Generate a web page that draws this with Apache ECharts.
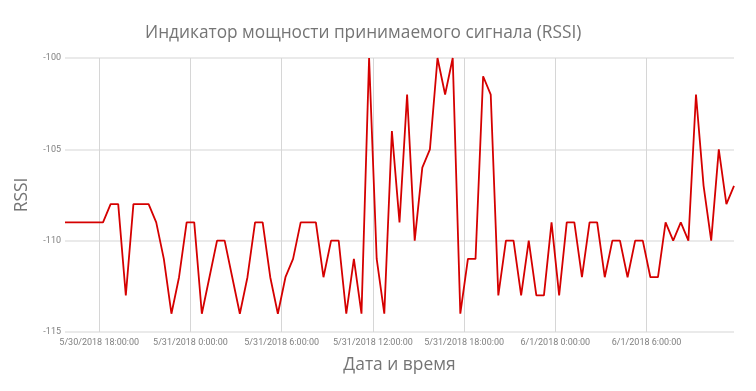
<!DOCTYPE html>
<html><head><meta charset="utf-8">
<script src="https://cdn.jsdelivr.net/npm/echarts@6/dist/echarts.min.js"></script>
<style>html,body{margin:0;padding:0;background:#fff}#c{width:756px;height:391px}</style>
</head><body><div id="c"></div>
<script>
// Data: RSSI readings every 30 minutes starting 5/30/2018 15:45
const startHour = 15.75;          // hours since 5/30/2018 0:00
const stepHours = 0.5;
const rssi = [
  -109,-109,-109,-109,-109,-109,-108,-108,-113,-108,
  -108,-108,-109,-111,-114,-112,-109,-109,-114,-112,
  -110,-110,-112,-114,-112,-109,-109,-112,-114,-112,
  -111,-109,-109,-109,-112,-110,-110,-114,-111,-114,
  -100,-111,-114,-104,-109,-102,-110,-106,-105,-100,
  -102,-100,-114,-111,-111,-101,-102,-113,-110,-110,
  -113,-110,-113,-113,-109,-113,-109,-109,-112,-109,
  -109,-112,-110,-110,-112,-110,-110,-112,-112,-109,
  -110,-109,-110,-102,-107,-110,-105,-108,-107
];
const yTicks = [-115, -110, -105, -100];
const titleText = 'Индикатор мощности принимаемого сигнала (RSSI)';
const xName = 'Дата и время';
const yName = 'RSSI';

const points = rssi.map((v, i) => [startHour + i * stepHours, v]);
const endHour = startHour + (rssi.length - 1) * stepHours;

function fmt(h) {
  const day = Math.floor(h / 24);
  const hh = Math.round(h - day * 24);
  let m = 5, d = 30 + day;
  if (d > 31) { m = 6; d -= 31; }
  return m + '/' + d + '/2018 ' + hh + ':00:00';
}

const chart = echarts.init(document.getElementById('c'), null, {renderer: 'canvas'});
const gray = '#757575';
chart.setOption({
  animation: false,
  backgroundColor: '#fff',
  title: {
    text: titleText, left: 140, top: 20,
    textStyle: {fontFamily: 'Open Sans', fontSize: 17.3, fontWeight: 'normal', color: gray}
  },
  grid: {left: 65, right: 22, top: 58, bottom: 59, containLabel: false},
  xAxis: {
    type: 'value', min: startHour, max: endHour,
    minInterval: 6, maxInterval: 6, splitNumber: 7,
    name: xName, nameLocation: 'middle', nameGap: 25,
    nameTextStyle: {fontFamily: 'Open Sans', fontSize: 17.4, color: gray},
    axisLine: {show: false}, axisTick: {show: false},
    axisLabel: {formatter: fmt, fontFamily: 'Roboto', fontSize: 9, color: '#808080', margin: 6,
                showMinLabel: false, showMaxLabel: false},
    splitLine: {show: true, showMinLine: false, showMaxLine: false, lineStyle: {color: '#d6d6d6', width: 1}}
  },
  yAxis: {
    type: 'value', min: yTicks[0], max: yTicks[yTicks.length - 1], interval: 5,
    name: yName, nameLocation: 'middle', nameGap: 34, nameRotate: 90,
    nameTextStyle: {fontFamily: 'Open Sans', fontSize: 17.4, color: gray},
    axisLine: {show: false}, axisTick: {show: false},
    axisLabel: {fontFamily: 'Roboto', fontSize: 9, color: '#808080', margin: 4},
    splitLine: {show: true, lineStyle: {color: '#e3e3e3', width: 1.5}}
  },
  series: [{
    type: 'line', data: points, showSymbol: false, symbol: 'none',
    lineStyle: {color: '#d50000', width: 1.8}, itemStyle: {color: '#d50000'}
  }]
});
</script></body></html>
